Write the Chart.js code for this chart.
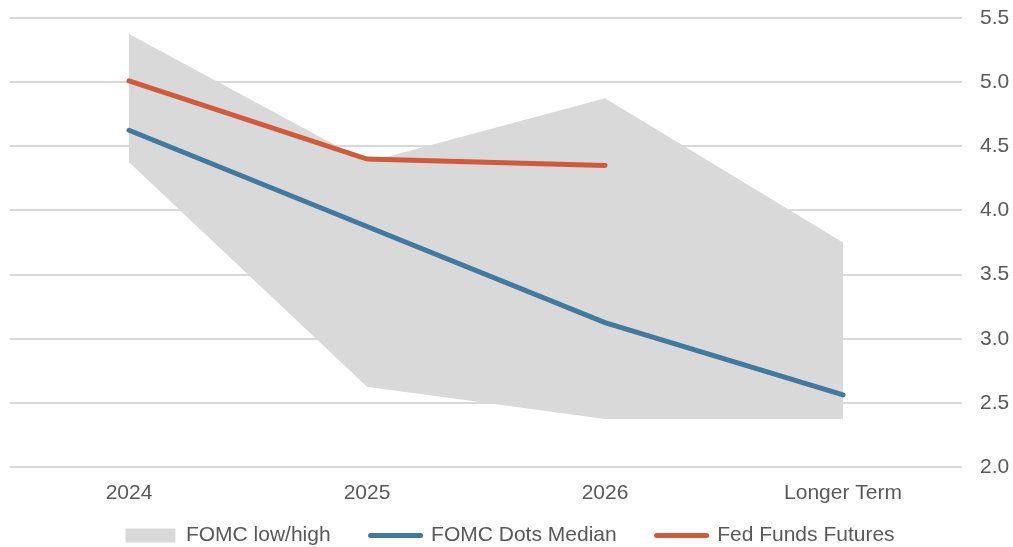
<!DOCTYPE html>
<html>
<head>
<meta charset="utf-8">
<script src="https://cdn.jsdelivr.net/npm/chart.js@4"></script>
<style>
  html, body { margin: 0; padding: 0; background: #ffffff; }
  #wrap { width: 1013px; height: 547px; position: relative; }
</style>
</head>
<body>
<div id="wrap"><canvas id="fomcChart"></canvas></div>
<script>
// categories and series
const categories = ['2024', '2025', '2026', 'Longer Term'];
const fomcLow = [4.375, 2.625, 2.375, 2.375];
const fomcHigh = [5.375, 4.375, 4.875, 3.75];
const dotsMedian = [4.625, 3.875, 3.125, 2.5625];
const fedFundsFutures = [5.01, 4.40, 4.35, null];
const yTicks = [2.0, 2.5, 3.0, 3.5, 4.0, 4.5, 5.0, 5.5];

const GREY = '#d9d9d9', BLUE = '#41799f', RED = '#d05a3c', TEXT = '#595959';
const FONT = "'Liberation Sans', Arial, sans-serif";

// the legend keeps wide gaps between items but should not eat the plot height
const legendHeightFix = {
    id: 'legendHeightFix',
    beforeLayout(chart) {
        const lg = chart.legend;
        if (lg && !lg._heightFixed) {
            const origFit = lg.fit.bind(lg);
            const origDraw = lg.draw.bind(lg);
            lg.fit = function() { origFit(); this.height = 40; };
            lg.draw = function(area) {
                const t = this.top;
                this.top = t - 22;
                origDraw(area);
                this.top = t;
            };
            lg._heightFixed = true;
        }
    }
};

function createFomcChart(canvasId) {
    const ctx = document.getElementById(canvasId);
    if (!ctx) { console.error(`Canvas #${canvasId} not found.`); return; }

    const chartData = {
        labels: categories,
        datasets: [
            { label: 'FOMC Dots Median', data: dotsMedian, borderColor: BLUE, backgroundColor: BLUE,
              borderWidth: 5, pointRadius: 0, tension: 0, fill: false, order: 1, borderCapStyle: 'round' },
            { label: 'Fed Funds Futures', data: fedFundsFutures, borderColor: RED, backgroundColor: RED,
              borderWidth: 5, pointRadius: 0, tension: 0, fill: false, order: 0, borderCapStyle: 'round' },
            { label: 'low', data: fomcLow, borderWidth: 0, borderColor: 'rgba(0,0,0,0)', pointRadius: 0,
              fill: false, order: 3 },
            { label: 'FOMC low/high', data: fomcHigh, borderWidth: 0, borderColor: 'rgba(0,0,0,0)',
              backgroundColor: GREY, pointRadius: 0, fill: '-1', order: 2 }
        ]
    };

    const legendOrder = ['FOMC low/high', 'FOMC Dots Median', 'Fed Funds Futures'];

    const chartOptions = {
        responsive: true, maintainAspectRatio: false, animation: false,
        layout: { padding: { top: 18, right: 3, left: 10, bottom: 0 } },
        scales: {
            x: {
                offset: true,
                grid: { display: false, drawTicks: false }, border: { display: false },
                ticks: { color: TEXT, font: { family: FONT, size: 21 }, padding: 14, maxRotation: 0 },
                afterFit: function(axis) { axis.height = 40; }
            },
            y: {
                position: 'right', min: 2.0, max: 5.5,
                afterBuildTicks: function(axis) { axis.ticks = yTicks.map(v => ({ value: v })); },
                grid: { color: GREY, lineWidth: 2, drawTicks: false }, border: { display: false },
                ticks: { color: TEXT, font: { family: FONT, size: 21 }, padding: 18,
                         callback: function(v) { return v.toFixed(1); } },
                afterFit: function(axis) { axis.width = 48; axis.paddingTop = 0; axis.paddingBottom = 0; }
            }
        },
        plugins: {
            legend: {
                position: 'bottom',
                labels: {
                    color: TEXT, font: { family: FONT, size: 21 }, usePointStyle: true,
                    pointStyleWidth: 50, boxHeight: 14, padding: 40,
                    generateLabels: function(chart) {
                        return legendOrder.map(function(name) {
                            const i = chart.data.datasets.findIndex(d => d.label === name);
                            const ds = chart.data.datasets[i];
                            const isArea = name === 'FOMC low/high';
                            return {
                                text: name, datasetIndex: i, fontColor: TEXT,
                                fillStyle: isArea ? GREY : ds.borderColor,
                                strokeStyle: isArea ? GREY : ds.borderColor,
                                lineWidth: isArea ? 0 : 5, lineCap: 'round',
                                pointStyle: isArea ? 'rect' : 'line', hidden: false
                            };
                        });
                    }
                }
            },
            tooltip: { enabled: false },
            title: { display: false }
        }
    };

    try { new Chart(ctx, { type: 'line', data: chartData, options: chartOptions, plugins: [legendHeightFix] }); }
    catch (error) { console.error(`Error initializing chart #${canvasId}:`, error); }
}

createFomcChart('fomcChart');
</script>
</body>
</html>
